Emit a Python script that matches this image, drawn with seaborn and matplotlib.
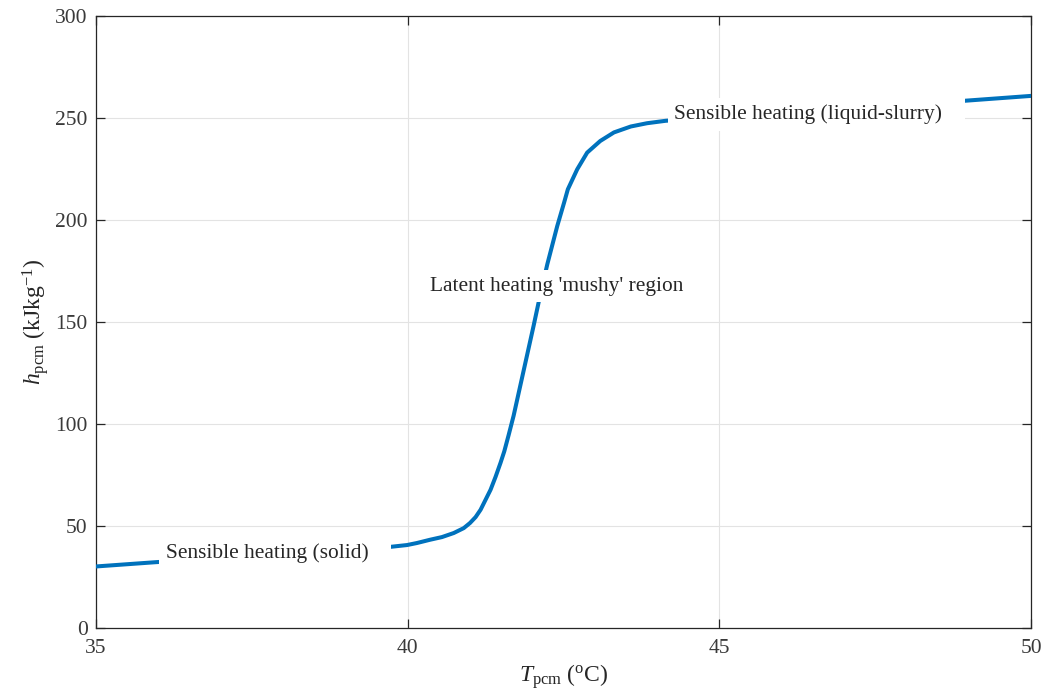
import matplotlib
matplotlib.use("Agg")
import matplotlib.pyplot as plt
import numpy as np
import pandas as pd
import seaborn as sns

# enthalpy curve (T in degC, h in kJ/kg)
temp = [35.00, 35.96, 39.72, 39.99, 40.15, 40.36, 40.55, 40.74, 40.90, 41.00,
        41.09, 41.17, 41.25, 41.33, 41.41, 41.49, 41.55, 41.62, 41.70, 41.78,
        41.86, 41.94, 42.02, 42.10, 42.24, 42.40, 42.51, 42.57, 42.72, 42.88,
        43.09, 43.31, 43.58, 43.84, 44.14, 48.93, 50.00]
enthalpy = [30.1, 32.2, 39.7, 40.6, 41.6, 43.2, 44.5, 46.5, 48.9, 51.4,
            54.3, 57.9, 62.8, 67.7, 74.0, 80.9, 86.5, 94.5, 104.0, 115.0,
            126.0, 137.0, 148.0, 159.4, 178.2, 197.0, 208.5, 215.0, 224.8, 233.0,
            238.7, 242.9, 245.8, 247.4, 248.6, 258.4, 260.8]

x_ticks = [35, 40, 45, 50]
y_ticks = [0, 50, 100, 150, 200, 250, 300]

labels = ["Sensible heating (solid)",
          "Latent heating 'mushy' region",
          "Sensible heating (liquid-slurry)"]
label_x = [36.12, 40.36, 44.28]
label_y = [36.8, 167.4, 251.8]
# MATLAB-style text boxes leave extra room after the string
label_tail = ["   ", "", "   "]

sns.set_theme(style="whitegrid")
plt.rcParams["font.family"] = ["Liberation Serif", "DejaVu Serif"]
plt.rcParams["mathtext.fontset"] = "custom"
plt.rcParams["mathtext.rm"] = "Liberation Serif"
plt.rcParams["mathtext.it"] = "Liberation Serif:italic"

ink = "#262626"

fig = plt.figure(figsize=(10.43, 6.93), dpi=100)
ax = fig.add_axes([0.092, 0.094, 0.8965, 0.883])

df = pd.DataFrame({"T": temp, "h": enthalpy})
sns.lineplot(data=df, x="T", y="h", ax=ax, color="#0072BD", linewidth=2.9,
             estimator=None, sort=False, zorder=3)

for txt, tail, tx, ty in zip(labels, label_tail, label_x, label_y):
    ax.text(tx, ty, txt + tail, fontsize=15.4, color=ink, va="center", ha="left", zorder=5,
            bbox=dict(boxstyle="square,pad=0.3", facecolor="white", edgecolor="none"))

ax.set_xlim(35, 50)
ax.set_ylim(0, 300)
ax.set_xticks(x_ticks)
ax.set_yticks(y_ticks)
ax.grid(True, color="#e3e3e3", linewidth=0.8)
ax.set_axisbelow(True)

for s in ax.spines.values():
    s.set_visible(True)
    s.set_color(ink)
    s.set_linewidth(0.9)

ax.tick_params(direction="in", length=6.5, width=0.9, colors=ink, labelsize=15.5,
               top=True, right=True, bottom=True, left=True, pad=6)
ax.tick_params(axis="x", pad=8)
for lab in ax.get_xticklabels() + ax.get_yticklabels():
    lab.set_color("#3a3a3a")

ax.set_xlabel(r"$T_{\mathrm{pcm}}\ (^{\mathrm{o}}\mathrm{C})$", fontsize=17, color=ink, labelpad=3)
ax.set_ylabel(r"$h_{\mathrm{pcm}}\ \mathrm{(kJkg^{-1})}$", fontsize=17, color=ink, labelpad=3)

fig.savefig("out.png", dpi=100, facecolor="white")
